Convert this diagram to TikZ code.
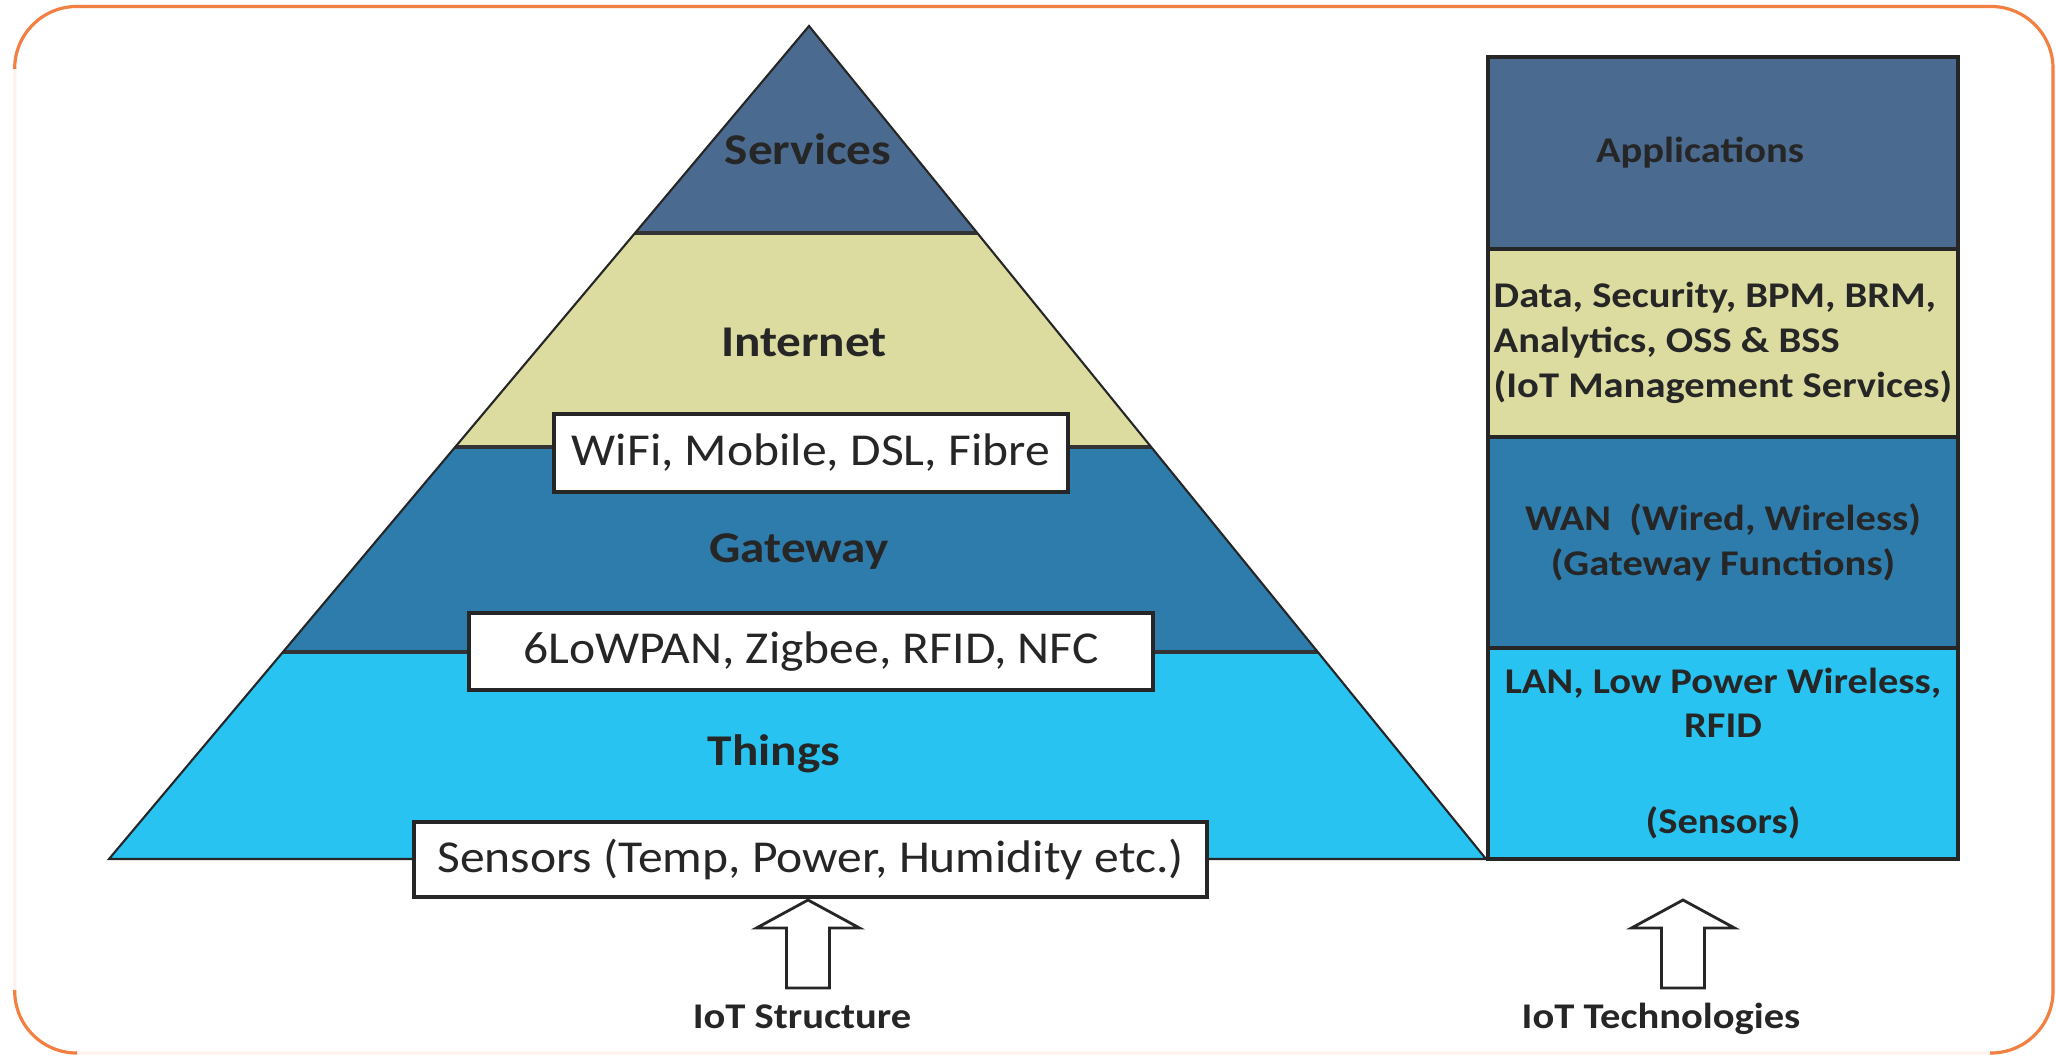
\documentclass[tikz,border=0pt]{standalone}
\usepackage{fontspec}
\setmainfont{Carlito}[FakeStretch=1.085, BoldFeatures={FakeStretch=1.12}]
\usetikzlibrary{
  positioning,
  calc}
\definecolor{servicecolor}{RGB}{74,107,143}
\definecolor{internetcolor}{RGB}{221,220,160}
\definecolor{gatewaycolor}{RGB}{46,124,172}
\definecolor{thingscolor}{RGB}{40,195,240}
\definecolor{framecolor}{RGB}{242,128,66}
\tikzset{
  uparrow/.pic = {
    \coordinate (-tip) at (0, 0);
    \draw [blockarrow] (0, 0) -- (0.515, 0.28) -- (0.215, 0.28) -- (0.215, 0.88)
      -- (-0.215, 0.88) -- (-0.215, 0.28) -- (-0.515, 0.28) -- cycle;
  }
}
\tikzset{
  %% divider : line between two slices of the pyramid
  divider/.style={draw=black!80, line width=1pt},
  %% outline : sides of the pyramid
  outline/.style={draw=black!85, line width=0.6pt, line join=miter},
  %% slicetitle : bold name of a slice
  slicetitle/.style={
    font=\fontsize{12.5}{15}\selectfont\bfseries,
    text=black!85,
    anchor=base
  },
  %% protocol : white box with the link technologies
  protocol/.style={
    rectangle,
    draw=black!85,
    line width=1.1pt,
    fill=white,
    font=\fontsize{13}{15}\selectfont,
    text=black!85,
    inner sep=0pt,
    align=center
  },
  %% techbox : one row of the technology stack
  techbox/.style={
    rectangle,
    draw=black!85,
    line width=0.9pt,
    minimum width=4.70cm,
    outer sep=0pt,
    font=\fontsize{10.3}{12.6}\selectfont\bfseries,
    text=black!85,
    align=center
  },
  %% caption : title under an arrow
  caption/.style={
    font=\fontsize{10.3}{12}\selectfont\bfseries,
    text=black!85,
    anchor=base
  },
  blockarrow/.style={draw=black!85, line width=0.8pt, fill=white, line join=miter},
  %% outer frame, left and bottom edges drawn pale
  outerframe/.style={framecolor, line width=0.9pt, rounded corners=0.62cm},
  outerfaint/.style={framecolor!10, line width=0.9pt, rounded corners=0.62cm}
}

\begin{document}
\begin{tikzpicture}
  [x=1cm,
  y=-1cm]

  \useasboundingbox (0, 0) rectangle (20.56, 10.57);

  %% Frame
  \draw [outerfaint] (0.147, 0.065) rectangle (20.53, 10.53);
  \draw [outerframe] (0.147, 0.69) -- (0.147, 0.065) -- (20.53, 0.065)
    -- (20.53, 10.53) -- (19.90, 10.53);
  \draw [outerframe] (0.147, 9.90) -- (0.147, 10.53) -- (0.77, 10.53);

  %% Pyramid
  \coordinate (apex) at (8.09, 0.26);
  \coordinate (baseL) at (1.09, 8.59);
  \coordinate (baseR) at (14.86, 8.59);
  \coordinate (l1) at ($(apex)!0.2485!(baseL)$);
  \coordinate (r1) at ($(apex)!0.2485!(baseR)$);
  \coordinate (l2) at ($(apex)!0.5054!(baseL)$);
  \coordinate (r2) at ($(apex)!0.5054!(baseR)$);
  \coordinate (l3) at ($(apex)!0.7515!(baseL)$);
  \coordinate (r3) at ($(apex)!0.7515!(baseR)$);

  \fill [servicecolor] (apex) -- (r1) -- (l1) -- cycle;
  \fill [internetcolor] (l1) -- (r1) -- (r2) -- (l2) -- cycle;
  \fill [gatewaycolor] (l2) -- (r2) -- (r3) -- (l3) -- cycle;
  \fill [thingscolor] (l3) -- (r3) -- (baseR) -- (baseL) -- cycle;

  \draw [divider] (l1) -- (r1);
  \draw [divider] (l2) -- (r2);
  \draw [divider] (l3) -- (r3);
  \draw [outline] (apex) -- (baseL) -- (baseR) -- cycle;

  \node (services) [slicetitle] at (8.08, 1.65) {Services};
  \node (internet) [slicetitle] at (8.04, 3.57) {Internet};
  \node (gateway) [slicetitle] at (7.99, 5.62) {Gateway};
  \node (things) [slicetitle] at (7.74, 7.65) {Things};

  \node (wifi) [protocol, minimum width=5.14cm, minimum height=0.78cm]
    at (8.11, 4.53) {WiFi, Mobile, DSL, Fibre};
  \node (lowpan) [protocol, minimum width=6.84cm, minimum height=0.77cm]
    at (8.11, 6.515) {6LoWPAN, Zigbee, RFID, NFC};
  \node (sensors) [protocol, minimum width=7.93cm, minimum height=0.75cm]
    at (8.105, 8.595) {Sensors (Temp, Power, Humidity etc.)};

  %% Technology stack
  \node (apps) [techbox, fill=servicecolor, minimum height=1.92cm]
    at (17.23, 1.53) {\hspace*{-0.46cm}Applications};
  \node (mgmt) [techbox, below=0pt of apps, fill=internetcolor,
    minimum height=1.88cm, inner xsep=0.04cm,
    align=left, font=\fontsize{10.3}{12.8}\selectfont\bfseries]{%
    Data, Security, BPM, BRM,\\Analytics, OSS \& BSS\\(IoT Management Services)
  };
  \node (wan) [techbox, below=0pt of mgmt, fill=gatewaycolor,
    minimum height=2.11cm]{%
    WAN~~(Wired, Wireless)\\(Gateway Functions)
  };
  \node (lan) [techbox, below=0pt of wan, fill=thingscolor,
    minimum height=2.11cm]{%
    LAN, Low Power Wireless,\\RFID\\[0.52cm](Sensors)
  };

  %% Arrows and titles
  \pic (structarrow) at (8.08, 9.00) {uparrow};
  \pic (techarrow) at (16.83, 9.00) {uparrow};

  \node (structure) [caption] at (8.02, 10.28) {IoT Structure};
  \node (technologies) [caption] at (16.61, 10.28) {IoT Technologies};

\end{tikzpicture}
\end{document}
